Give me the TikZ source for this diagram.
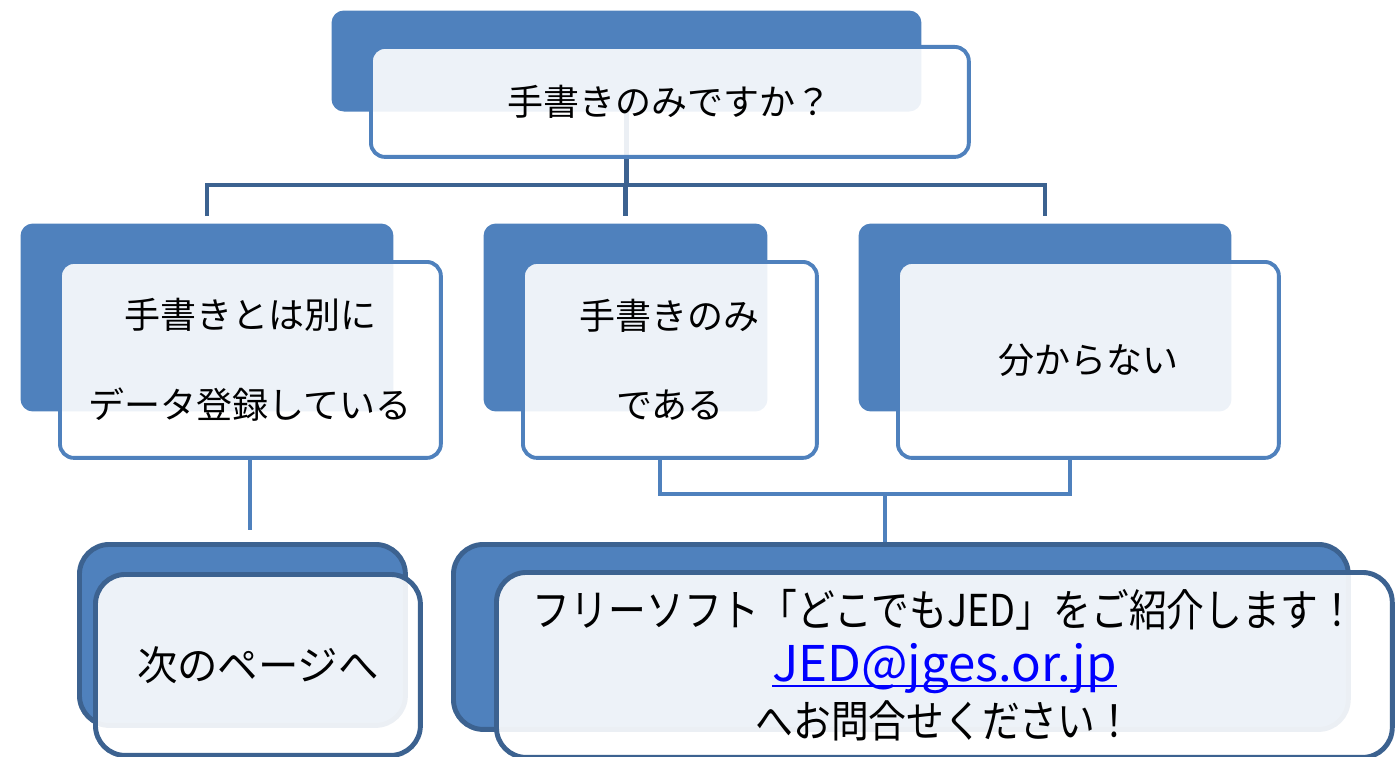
\documentclass[tikz,border=0pt]{standalone}
\usepackage{fontspec}
\setmainfont{Noto Sans CJK JP}
\newfontfamily\narrowjp[FakeStretch=0.86]{Noto Sans CJK JP}
\usetikzlibrary{positioning, backgrounds}

\definecolor{accent}{HTML}{4F81BD}
\definecolor{darkline}{HTML}{3C6290}
\definecolor{linkblue}{HTML}{0000FF}

\newsavebox{\linkbox}
\newcommand{\linkline}[1]{\sbox{\linkbox}{#1}\rlap{\rule[-3pt]{\wd\linkbox}{1.3pt}}\usebox{\linkbox}}

\begin{document}
\begin{tikzpicture}[
            x = 0.02cm, y = -0.02cm, % one unit per pixel of the layout
            font = \fontsize{20.5pt}{24pt}\selectfont,
            semithick % line style
        ]

        \tikzstyle{backbox}=[
            anchor = north west,
            fill = accent,
            rounded corners = 7pt,
            inner sep = 0pt
        ]
        \tikzstyle{frontbox}=[
            anchor = north west,
            draw = accent,
            line width = 2.2pt,
            fill = white,
            fill opacity = 0.9,
            text opacity = 1,
            rounded corners = 8pt,
            align = center,
            inner sep = 0pt
        ]
        \tikzstyle{endback}=[backbox, draw = darkline, line width = 2.8pt, rounded corners = 17pt]
        \tikzstyle{endfront}=[frontbox, draw = darkline, line width = 2.8pt, rounded corners = 17pt]
        \tikzstyle{topline}=[draw = darkline, line width = 2.8pt]
        \tikzstyle{lowline}=[draw = accent, line width = 2.2pt]

        \useasboundingbox (0,0) rectangle (1396,757);

        % question
        \node[backbox, minimum width = 11.8cm, minimum height = 2.02cm] (qback) at (331,10) {};
        \node[frontbox, minimum width = 11.96cm, minimum height = 2.2cm] (q) at (369,45) {手書きのみですか？};

        % answers
        \node[backbox, minimum width = 7.46cm, minimum height = 3.76cm] (sepback) at (20,223) {};
        \node[frontbox, minimum width = 7.62cm, minimum height = 3.92cm,
              font = \fontsize{20.5pt}{51pt}\selectfont] (sep) at (58,260) {手書きとは別に\\データ登録している};

        \node[backbox, minimum width = 5.68cm, minimum height = 3.76cm] (onlyback) at (483,223) {};
        \node[frontbox, minimum width = 5.88cm, minimum height = 3.92cm,
              font = \fontsize{20.5pt}{51pt}\selectfont] (only) at (521,260) {手書きのみ\\である};

        \node[backbox, minimum width = 7.46cm, minimum height = 3.76cm] (unkback) at (858,223) {};
        \node[frontbox, minimum width = 7.62cm, minimum height = 3.92cm] (unk) at (896,260) {分からない};

        % results
        \node[endback, minimum width = 6.52cm, minimum height = 3.62cm] (nextback) at (77,542) {};
        \node[endfront, minimum width = 6.5cm, minimum height = 3.62cm,
              font = \fontsize{23pt}{27pt}\selectfont] (next) at (93,572) {次のページへ};

        \node[endback, minimum width = 17.9cm, minimum height = 3.7cm] (infoback) at (451,542) {};
        \node[endfront, minimum width = 17.92cm, minimum height = 3.7cm,
              font = \narrowjp\fontsize{25pt}{31.7pt}\selectfont] (info) at (494,570)
              {フリーソフト「どこでもJED」をご紹介します！\\
               {\rmfamily\fontsize{28pt}{31.7pt}\selectfont\textcolor{linkblue}{\linkline{JED@jges.or.jp}}}\\
               へお問合せください！};

        \coordinate (bus) at (625,185);
        \coordinate (merge) at (885,494);

        \begin{scope}[on background layer]
            \draw[topline] (qback.center) -- (qback.center |- bus);
            \draw[topline, shorten < = 0.14cm, shorten > = 0.14cm]
                (sepback.north) -- (sepback.north |- bus) -- (unkback.north |- bus) -- (unkback.north);
            \draw[topline, shorten > = 0.14cm] (onlyback.north |- bus) -- (onlyback.north);

            \draw[lowline, shorten > = 0.24cm] (sep.south) -- (sep.south |- nextback.north);
            \draw[lowline] ([xshift = -0.2cm]only.south) |- (merge) -| ([xshift = -0.37cm]unk.south);
            \draw[lowline] (merge) -- (merge |- infoback.north);
        \end{scope}

  \end{tikzpicture}
\end{document}
